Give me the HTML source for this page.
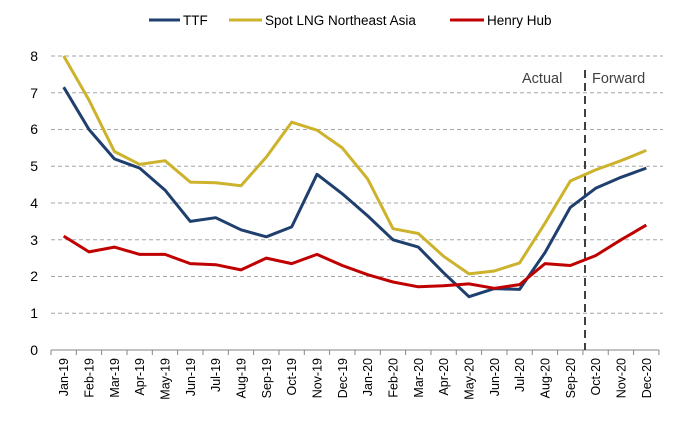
<!DOCTYPE html>
<html><head><style>
body{margin:0;background:#fff;}
svg{display:block;font-family:"Liberation Sans",sans-serif;}
</style></head><body>
<svg width="679" height="432" viewBox="0 0 679 432">
<g stroke="#a6a6a6" stroke-width="1" stroke-dasharray="4,3">
<line x1="51" x2="663" y1="313.25" y2="313.25"/>
<line x1="51" x2="663" y1="276.5" y2="276.5"/>
<line x1="51" x2="663" y1="239.75" y2="239.75"/>
<line x1="51" x2="663" y1="203" y2="203"/>
<line x1="51" x2="663" y1="166.25" y2="166.25"/>
<line x1="51" x2="663" y1="129.5" y2="129.5"/>
<line x1="51" x2="663" y1="92.75" y2="92.75"/>
<line x1="51" x2="663" y1="56" y2="56"/>
</g>
<g font-size="14" fill="#000" text-anchor="end">
<text x="38" y="355">0</text><text x="38" y="318">1</text><text x="38" y="281">2</text><text x="38" y="245">3</text><text x="38" y="208">4</text><text x="38" y="171">5</text><text x="38" y="134">6</text><text x="38" y="98">7</text><text x="38" y="61">8</text>
</g>
<line x1="51" x2="659" y1="350" y2="350" stroke="#868686"/>
<g id="ticks" stroke="#868686"></g>
<line x1="585" x2="585" y1="70" y2="350" stroke="#404040" stroke-width="2" stroke-dasharray="8,5"/>
<text x="522" y="83" font-size="14.5" fill="#404040">Actual</text>
<text x="592" y="83" font-size="14.5" fill="#404040">Forward</text>
<g id="series" fill="none" stroke-width="3" stroke-linejoin="round"></g>
<g id="labels" font-size="12.5" fill="#000"></g>
<g font-size="13.5" fill="#000">
<line x1="149" x2="180" y1="20" y2="20" stroke="#1f3f6e" stroke-width="3"/><text x="183" y="25">TTF</text>
<line x1="229" x2="262" y1="20" y2="20" stroke="#cdb22c" stroke-width="3"/><text x="265" y="25">Spot LNG Northeast Asia</text>
<line x1="450" x2="484" y1="20" y2="20" stroke="#c00000" stroke-width="3"/><text x="487" y="25">Henry Hub</text>
</g>
</svg>
<script>
var ns="http://www.w3.org/2000/svg";
function X(i){return 63.7+25.33*i;}
function Y(v){return 350-36.75*v;}
var m=["Jan","Feb","Mar","Apr","May","Jun","Jul","Aug","Sep","Oct","Nov","Dec"];
var tk=document.getElementById("ticks"),lb=document.getElementById("labels");
for(var i=0;i<=24;i++){var l=document.createElementNS(ns,"line");var x=51+25.33*i;l.setAttribute("x1",x);l.setAttribute("x2",x);l.setAttribute("y1",350);l.setAttribute("y2",355);tk.appendChild(l);}
for(var i=0;i<24;i++){var t=document.createElementNS(ns,"text");var x=X(i)+4.5,y=358;t.setAttribute("transform","translate("+x+","+y+") rotate(-90)");t.setAttribute("text-anchor","end");t.textContent=m[i%12]+"-"+(i<12?"19":"20");lb.appendChild(t);}
var d={"#1f3f6e":[7.15,6.0,5.2,4.95,4.35,3.5,3.6,3.27,3.08,3.35,4.78,4.25,3.65,3.0,2.8,2.1,1.45,1.67,1.65,2.65,3.88,4.4,4.7,4.95],
"#cdb22c":[8.0,6.8,5.4,5.05,5.15,4.57,4.55,4.47,5.25,6.2,5.98,5.5,4.65,3.3,3.17,2.55,2.07,2.15,2.37,3.45,4.6,4.9,5.15,5.43],
"#c00000":[3.1,2.67,2.8,2.6,2.6,2.35,2.32,2.18,2.5,2.35,2.6,2.3,2.05,1.85,1.72,1.75,1.8,1.68,1.78,2.35,2.3,2.57,3.0,3.4]};
var s=document.getElementById("series");
for(var c in d){var p=document.createElementNS(ns,"polyline");p.setAttribute("points",d[c].map(function(v,i){return X(i).toFixed(1)+","+Y(v).toFixed(1);}).join(" "));p.setAttribute("stroke",c);s.appendChild(p);}
</script>
</body></html>
